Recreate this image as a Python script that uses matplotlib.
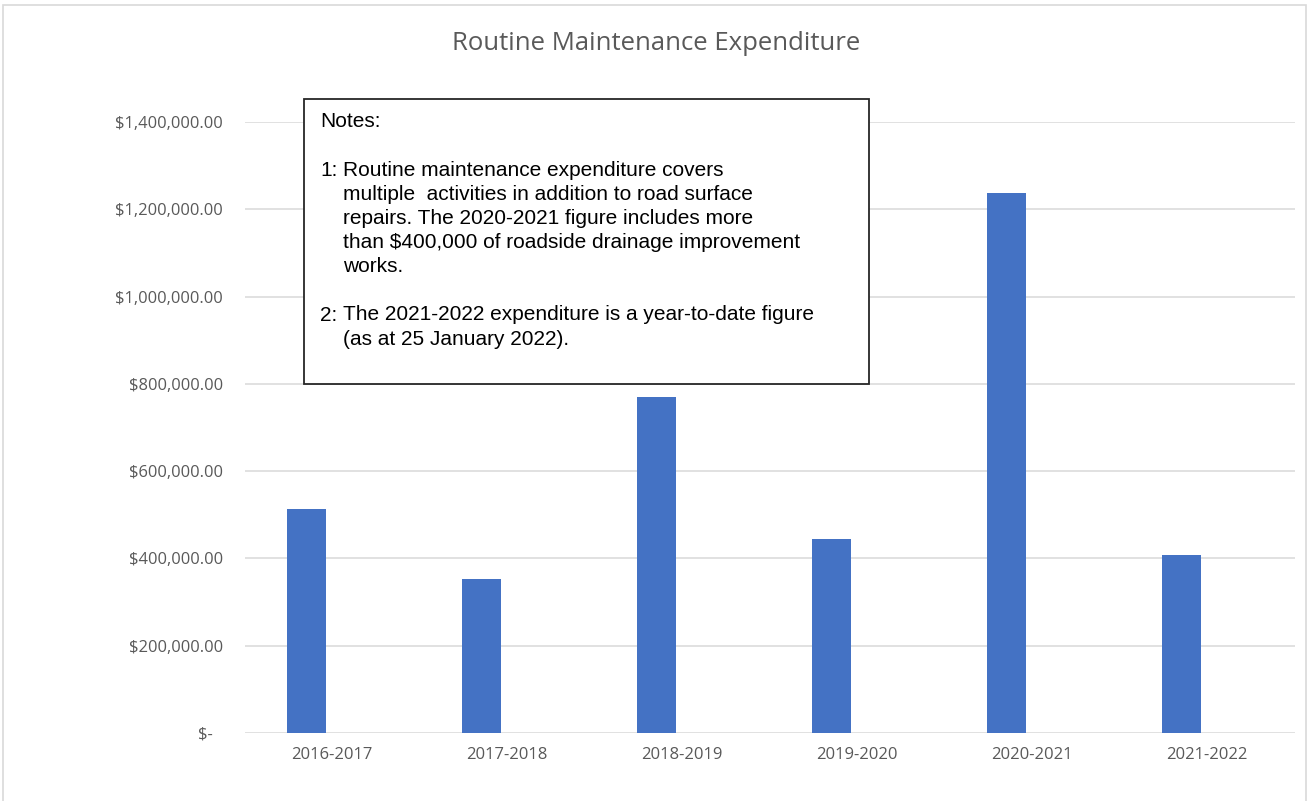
import matplotlib.pyplot as plt
import matplotlib.patches as mpatches
import numpy as np

# data
years = ['2016-2017', '2017-2018', '2018-2019', '2019-2020', '2020-2021', '2021-2022']
spend = [513000, 353000, 771000, 444000, 1238000, 408000]
yticks = [0, 200000, 400000, 600000, 800000, 1000000, 1200000, 1400000]

title = 'Routine Maintenance Expenditure'
note_body = ('Routine maintenance expenditure covers\n'
             'multiple  activities in addition to road surface\n'
             'repairs. The 2020-2021 figure includes more\n'
             'than $400,000 of roadside drainage improvement\n'
             'works.\n\n'
             'The 2021-2022 expenditure is a year-to-date figure\n'
             '(as at 25 January 2022).')

W, H = 1309, 801
grey = '#595959'
fig = plt.figure(figsize=(W / 100, H / 100), dpi=100)
ax = fig.add_axes([244.5 / W, 1 - 733 / H, 1050 / W, 611 / H])

x = np.arange(len(years))
ax.bar(x - 0.143, spend, width=0.223, color='#4472C4', zorder=2)

ax.set_xlim(-0.5, len(years) - 0.5)
ax.set_ylim(0, 1400000)
ax.set_yticks(yticks)
ax.set_yticklabels(['$-'] + ['${:,.2f}'.format(v) for v in yticks[1:]])
ax.set_xticks(x)
ax.set_xticklabels(years)
ax.grid(axis='y', color='#d9d9d9', linewidth=1.1, zorder=0)
for s in ax.spines.values():
    s.set_visible(False)
ax.tick_params(axis='y', length=0, pad=15.5, labelsize=11.9, labelcolor=grey)
ax.tick_params(axis='x', length=0, pad=10, labelsize=12, labelcolor=grey)
for lab in ax.get_xticklabels() + ax.get_yticklabels():
    lab.set_family('Open Sans')
# "$-" sits a bit further left in the accounting format
ax.yaxis.get_major_ticks()[0].set_pad(23)

fig.text(656 / W, 1 - 43 / H, title, ha='center', va='center',
         fontsize=18.5, color=grey, family='Open Sans')

# notes box
box = mpatches.Rectangle((304 / W, 1 - 384 / H), 565 / W, 285 / H,
                         transform=fig.transFigure, facecolor='white',
                         edgecolor='#262626', linewidth=1.3, zorder=5)
fig.patches.append(box)
top, pitch = 112, 24.3
kw = dict(ha='left', va='top', fontsize=15, family='Liberation Sans',
          color='black', zorder=6)
fig.text(320 / W, 1 - top / H, 'Notes:', **kw)
fig.text(320 / W, 1 - (top + 2 * pitch) / H, '1:', **kw)
fig.text(320 / W, 1 - (top + 8 * pitch) / H, '2:', **kw)
fig.text(343 / W, 1 - (top + 2 * pitch) / H, note_body, linespacing=1.343, **kw)

# light outer frame of the chart area
frame = mpatches.Rectangle((3 / W, -0.01), 1303 / W, 1 - 5 / H + 0.01,
                           transform=fig.transFigure, fill=False,
                           edgecolor='#d9d9d9', linewidth=1.2)
fig.patches.append(frame)

fig.savefig('out.png', dpi=100)
